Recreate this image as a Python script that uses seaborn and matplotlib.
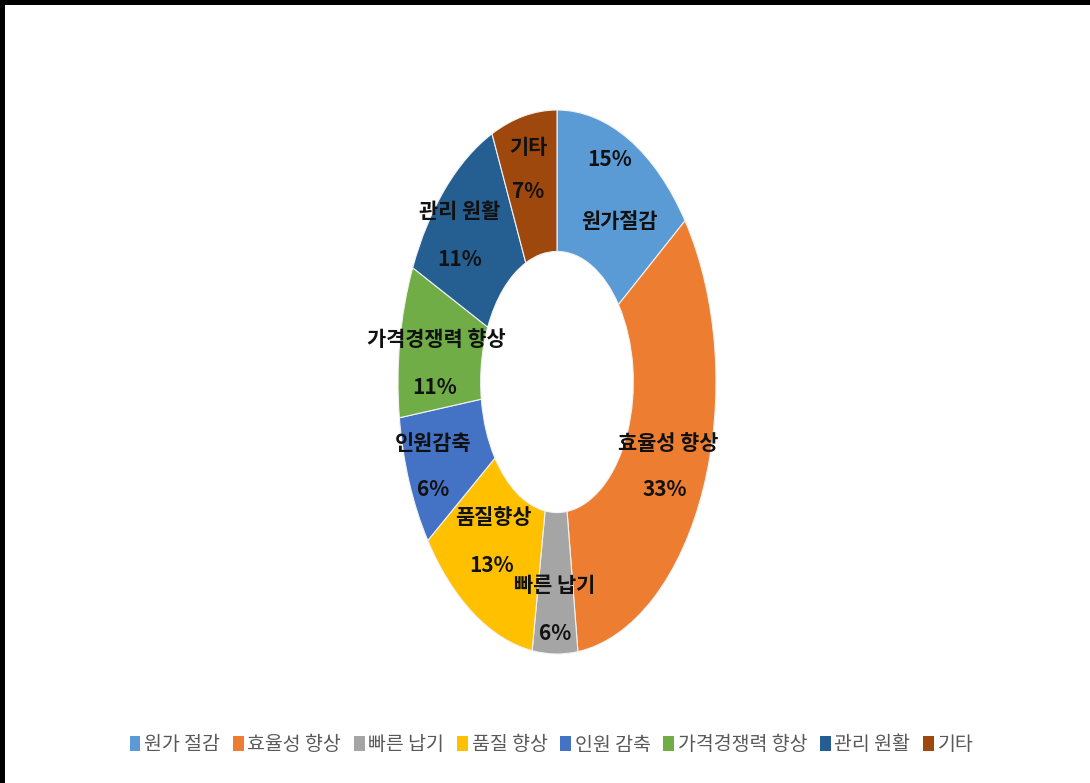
import matplotlib
matplotlib.use("Agg")
import matplotlib.pyplot as plt
import seaborn as sns
from matplotlib.patches import Rectangle, Patch

# ---- data ----
categories = ["원가 절감", "효율성 향상", "빠른 납기", "품질 향상", "인원 감축", "가격경쟁력 향상", "관리 원활", "기타"]
values = [14.9, 33.0, 4.6, 12.6, 7.8, 9.0, 11.4, 6.7]
inner_names = ["원가절감", "효율성 향상", "빠른 납기", "품질향상", "인원감축", "가격경쟁력 향상", "관리 원활", "기타"]
pct_labels = ["15%", "33%", "6%", "13%", "6%", "11%", "11%", "7%"]

colors = ["#5B9BD5", "#ED7D31", "#A5A5A5", "#FFC000", "#4472C4", "#70AD47", "#255E91", "#9E480E"]

sns.set_theme(style="white")
plt.rcParams["font.family"] = ["Noto Sans CJK KR", "DejaVu Sans"]

W, H = 1090, 783
fig = plt.figure(figsize=(W / 100, H / 100), dpi=100)
fig.patch.set_facecolor("white")

# pie axes: centre (557, 382) px, radii 159 x 272 px
cx, cy, rx, ry = 557, 382, 159, 272
ax = fig.add_axes([(cx - rx) / W, 1 - (cy + ry) / H, 2 * rx / W, 2 * ry / H])
wedges, _ = ax.pie(values, colors=colors, startangle=90, counterclock=False,
                   wedgeprops=dict(width=0.52, edgecolor="#f2f2f2", linewidth=0.8))
ax.set_aspect("auto")
ax.set_xlim(-1, 1)
ax.set_ylim(-1, 1)
ax.axis("off")

# label layout (pixel positions of name / percent text)
name_pos = [(620, 222), (668, 443), (555, 585), (493, 517), (433, 443), (436, 340), (460, 212), (528, 148)]
pct_pos = [(610, 160), (665, 490), (555, 633), (492, 566), (433, 490), (435, 387), (460, 260), (528, 192)]

def to_data(p):
    return ((p[0] - cx) / rx, -(p[1] - cy) / ry)

for nm, pc, npos, ppos in zip(inner_names, pct_labels, name_pos, pct_pos):
    x, y = to_data(npos)
    ax.text(x, y, nm, ha="center", va="center", fontsize=15, fontweight="bold", color="#111111")
    x, y = to_data(ppos)
    ax.text(x, y, pc, ha="center", va="center", fontsize=15, fontweight="bold", color="#111111")

handles = [Patch(facecolor=c, edgecolor="none") for c in colors]
leg = fig.legend(handles, categories, loc="center", bbox_to_anchor=(0.506, 1 - 745 / H),
                 ncol=8, frameon=False, fontsize=14, handlelength=0.55, handleheight=0.8,
                 handletextpad=0.2, columnspacing=0.65)
for t in leg.get_texts():
    t.set_color("#595959")

# black frame edges (top and left)
fig.patches.append(Rectangle((0, 1 - 5 / H), 1, 5 / H, transform=fig.transFigure,
                             facecolor="black", edgecolor="none", zorder=10))
fig.patches.append(Rectangle((0, 0), 5 / W, 1, transform=fig.transFigure,
                             facecolor="black", edgecolor="none", zorder=10))

fig.savefig("out.png", dpi=100)
